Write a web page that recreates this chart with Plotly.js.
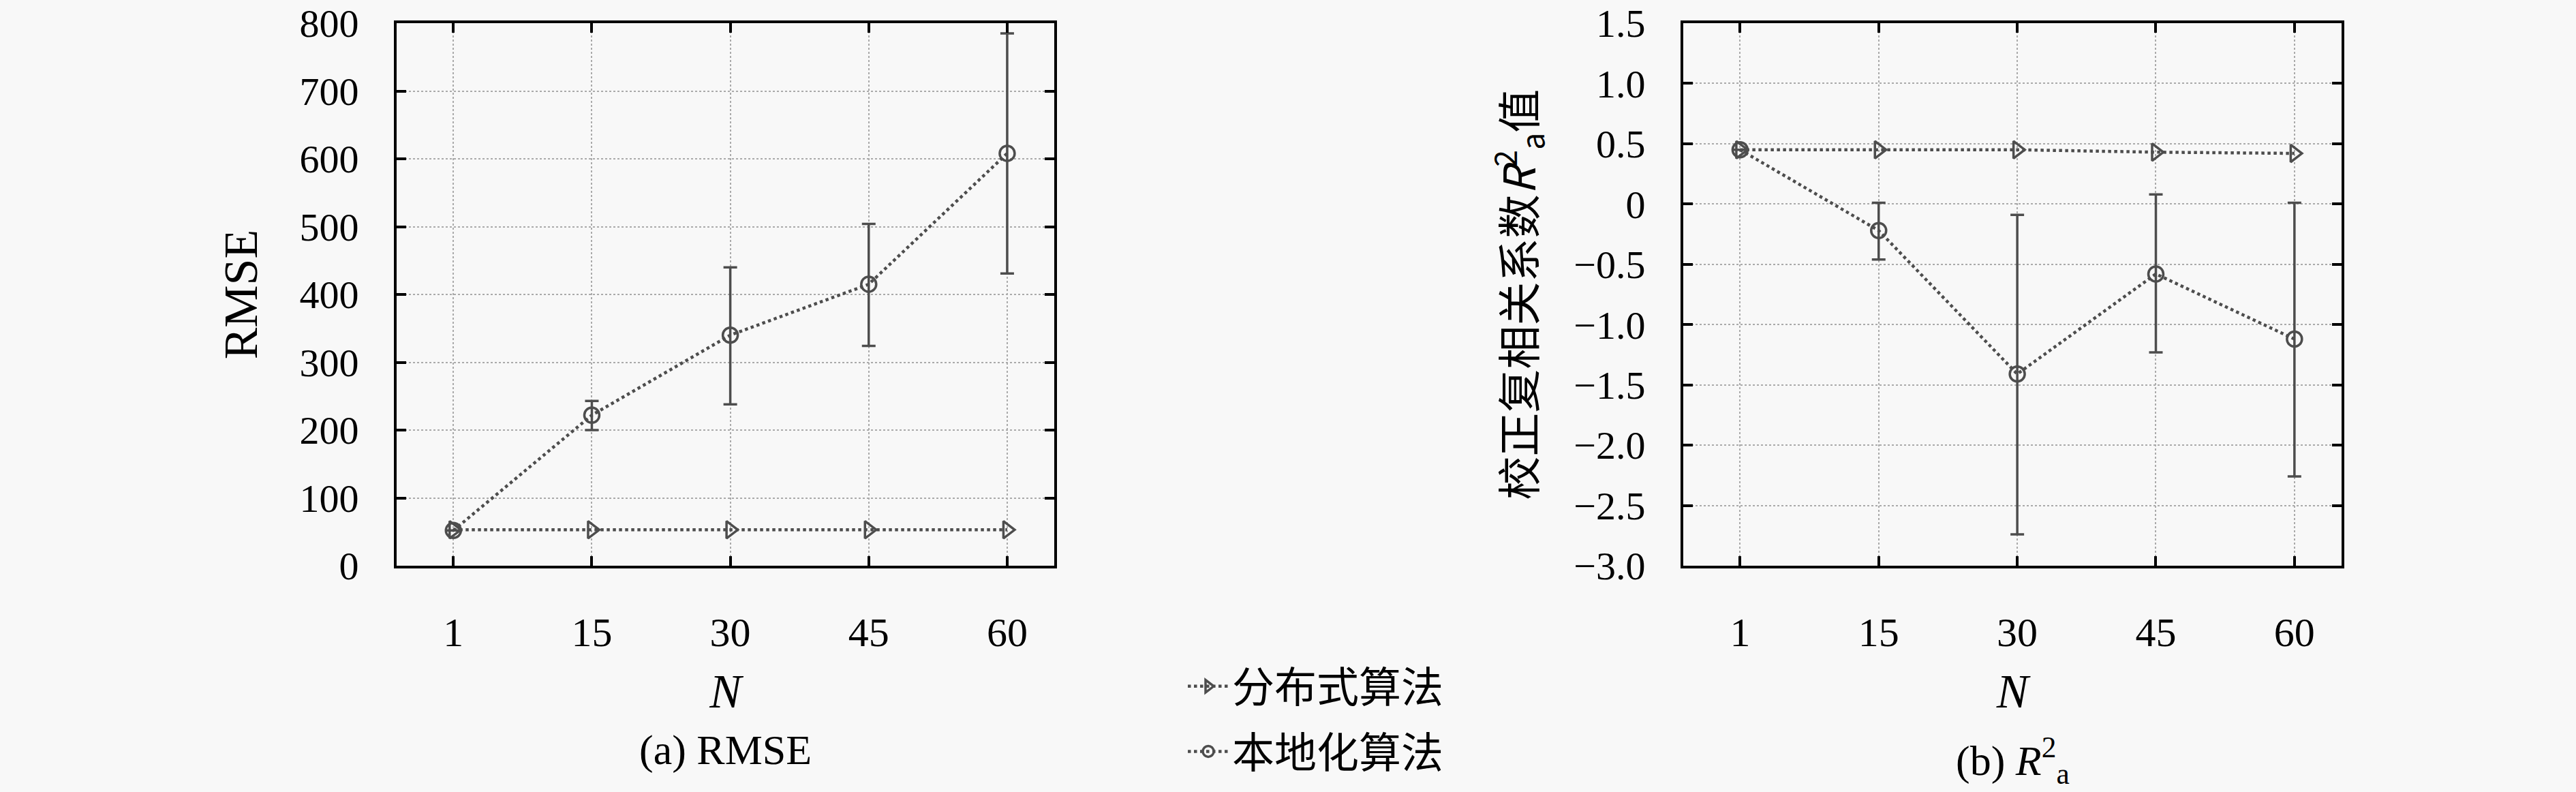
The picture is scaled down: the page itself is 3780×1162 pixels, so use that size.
<!DOCTYPE html>
<html>
<head>
<meta charset="utf-8">
<script src="https://cdn.plot.ly/plotly-3.0.1.min.js"></script>
<style>
  html, body { margin: 0; padding: 0; background: #f8f8f8; }
  #chart { width: 3780px; height: 1162px; }
</style>
</head>
<body>
<div id="chart"></div>
<script>
// N values (categorical, evenly spaced)
const nLabels = ['1', '15', '30', '45', '60'];

// (a) RMSE
const rmseDistributed = [53, 53, 53, 53, 53];
const rmseLocal = [52, 222, 340, 415, 608];
const rmseLocalErrUp = [0, 21, 100, 89, 177];
const rmseLocalErrDown = [0, 22, 102, 91, 177];

// (b) adjusted R^2
const r2Distributed = [0.45, 0.45, 0.45, 0.43, 0.42];
const r2Local = [0.45, -0.22, -1.41, -0.58, -1.12];
const r2LocalErrUp = [0, 0.23, 1.32, 0.66, 1.13];
const r2LocalErrDown = [0, 0.24, 1.33, 0.65, 1.14];

const r2TickVals = [1.5, 1.0, 0.5, 0, -0.5, -1.0, -1.5, -2.0, -2.5, -3.0];
const r2TickText = ['1.5', '1.0', '0.5', '0', '\u22120.5', '\u22121.0', '\u22121.5', '\u22122.0', '\u22122.5', '\u22123.0'];

const names = ['分布式算法', '本地化算法'];

const GREY = '#4d4d4d';
const SERIF = '"Liberation Serif", "DejaVu Serif", serif';
const CJK = '"Noto Sans CJK SC", "Liberation Serif", sans-serif';

function lineTrace(y, name, symbol, xa, ya, show, err) {
  const t = {
    type: 'scatter', mode: 'lines+markers',
    x: nLabels, y: y, name: name,
    xaxis: xa, yaxis: ya,
    showlegend: show, legendgroup: name,
    line: { color: GREY, width: 4.5, dash: 'dot' },
    marker: { symbol: symbol, size: 22, color: GREY, line: { color: GREY, width: 3.5 } },
    hoverinfo: 'skip'
  };
  if (err) {
    t.error_y = {
      type: 'data', symmetric: false,
      array: err[0], arrayminus: err[1],
      color: GREY, thickness: 3.5, width: 10
    };
  }
  return t;
}

const traces = [
  lineTrace(rmseDistributed, names[0], 'triangle-right-open', 'x', 'y', true),
  lineTrace(rmseLocal, names[1], 'circle-open', 'x', 'y', true, [rmseLocalErrUp, rmseLocalErrDown]),
  lineTrace(r2Distributed, names[0], 'triangle-right-open', 'x2', 'y2', false),
  lineTrace(r2Local, names[1], 'circle-open', 'x2', 'y2', false, [r2LocalErrUp, r2LocalErrDown])
];

function xAxis(domain, anchor) {
  return {
    domain: domain, anchor: anchor,
    type: 'category', range: [-0.41, 4.34],
    showline: true, linecolor: '#000', linewidth: 4, mirror: 'ticks',
    ticks: 'inside', ticklen: 14, tickwidth: 4, tickcolor: '#000',
    showgrid: true, gridcolor: '#aaaaaa', gridwidth: 2, griddash: 'dot',
    zeroline: false,
    tickfont: { family: SERIF, size: 60, color: '#000' },
    ticklabelstandoff: 42,
    title: { text: '<i>N</i>', font: { family: SERIF, size: 70, color: '#000' }, standoff: 30 }
  };
}

function yAxis(domain, anchor, extra) {
  return Object.assign({
    domain: domain, anchor: anchor,
    showline: true, linecolor: '#000', linewidth: 4, mirror: 'ticks',
    ticks: 'inside', ticklen: 14, tickwidth: 4, tickcolor: '#000',
    showgrid: true, gridcolor: '#aaaaaa', gridwidth: 2, griddash: 'dot',
    zeroline: false,
    tickfont: { family: SERIF, size: 58, color: '#000' },
    ticklabelstandoff: 40,
    ticklabeloverflow: 'allow'
  }, extra);
}

const yDom = [1 - 830 / 1162, 1 - 34 / 1162];

const layout = {
  width: 3780, height: 1162,
  margin: { l: 0, r: 0, t: 0, b: 0 },
  paper_bgcolor: '#f8f8f8', plot_bgcolor: '#f8f8f8',
  showlegend: true,
  xaxis: xAxis([582 / 3780, 1547 / 3780], 'y'),
  yaxis: yAxis(yDom, 'x', {
    range: [0, 800], dtick: 100,
    title: { text: 'RMSE', font: { family: SERIF, size: 70, color: '#000' }, standoff: 40 }
  }),
  xaxis2: xAxis([2470 / 3780, 3436 / 3780], 'y2'),
  yaxis2: yAxis(yDom, 'x2', {
    range: [-3, 1.5], tickvals: r2TickVals, ticktext: r2TickText,
    title: {
      text: '校正复相关系数<i>R</i><sup>2</sup><sub>a</sub>值',
      font: { family: CJK, size: 64, color: '#000' }, standoff: 36
    }
  }),
  legend: {
    x: 1738 / 3780, y: 1 - 960 / 1162, xanchor: 'left', yanchor: 'top',
    bgcolor: 'rgba(0,0,0,0)', borderwidth: 0,
    font: { family: CJK, size: 62, color: '#000' },
    traceorder: 'grouped', tracegroupgap: 12, itemwidth: 60
  },
  annotations: [
    {
      text: '(a) RMSE', xref: 'paper', yref: 'paper',
      x: 1064 / 3780, y: 1 - 1100 / 1162, xanchor: 'center', yanchor: 'middle',
      showarrow: false, font: { family: SERIF, size: 62, color: '#000' }
    },
    {
      text: '(b) <i>R</i><sup>2</sup><sub>a</sub>', xref: 'paper', yref: 'paper',
      x: 2953 / 3780, y: 1 - 1115 / 1162, xanchor: 'center', yanchor: 'middle',
      showarrow: false, font: { family: SERIF, size: 62, color: '#000' }
    }
  ]
};

Plotly.newPlot('chart', traces, layout, { displayModeBar: false, staticPlot: true });
</script>
</body>
</html>
